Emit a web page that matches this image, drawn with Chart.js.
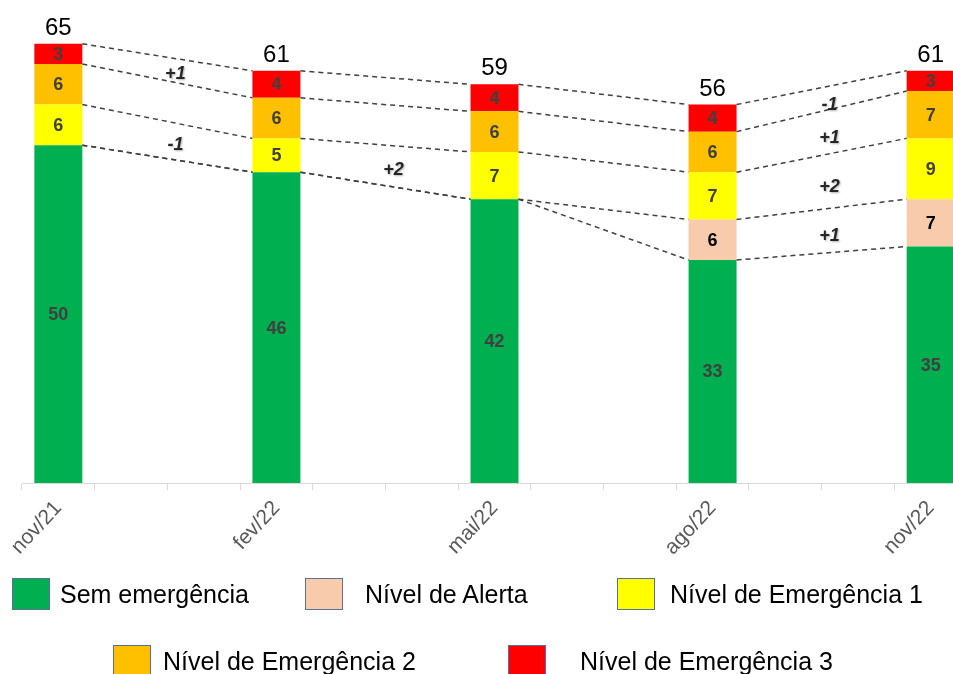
<!DOCTYPE html>
<html>
<head>
<meta charset="utf-8">
<script src="https://cdn.jsdelivr.net/npm/chart.js@4.4.0/dist/chart.umd.min.js"></script>
<style>
    html, body { margin: 0; padding: 0; background: #fff; overflow: hidden; width: 953px; height: 674px; }
    #wrap { position: absolute; left: 0; top: 0; width: 967px; height: 560px; }
    #legend { position: absolute; left: 0; top: 0; width: 953px; height: 674px; }
    .lg-box { position: absolute; width: 36px; height: 30px; border: 1px solid #5a6f99; }
    .lg-text { position: absolute; height: 32px; line-height: 32px; color: #000;
               font-family: "Liberation Sans", Arial, sans-serif; font-size: 25px; white-space: nowrap; }
</style>
</head>
<body>
<div id="wrap"><canvas id="mainChart"></canvas></div>
<div id="legend"></div>
<script>
// Values (one bar every three months)
const periods = ['nov/21', 'fev/22', 'mai/22', 'ago/22', 'nov/22'];
const semEmergencia = [50, 46, 42, 33, 35];
const nivelAlerta = [0, 0, 0, 6, 7];
const emergencia1 = [6, 5, 7, 7, 9];
const emergencia2 = [6, 6, 6, 6, 7];
const emergencia3 = [3, 4, 4, 4, 3];
const seriesNames = ['Sem emergência', 'Nível de Alerta', 'Nível de Emergência 1', 'Nível de Emergência 2', 'Nível de Emergência 3'];
const seriesColors = ['#00B050', '#F8CBAD', '#FFFF00', '#FFC000', '#FF0000'];

const STEP = 3; // months between two bars on the monthly axis
const slots = (periods.length - 1) * STEP + 1;
const monthLabels = Array.from({ length: slots }, (_, i) => i % STEP === 0 ? periods[i / STEP] : '');

function spread(values) {
    const out = new Array(slots).fill(null);
    values.forEach((v, i) => { out[i * STEP] = v; });
    return out;
}

const allSeries = [semEmergencia, nivelAlerta, emergencia1, emergencia2, emergencia3];

// Labels, connector lines and totals drawn over the bars
const overlayPlugin = {
    id: 'overlay',
    afterDatasetsDraw(chart) {
        const ctx = chart.ctx;
        const yScale = chart.scales.y;
        const metas = allSeries.map((_, k) => chart.getDatasetMeta(k));

        // cumulative tops for each bar
        const cum = periods.map((_, i) => {
            let s = 0;
            return allSeries.map(arr => (s += arr[i]));
        });
        const edges = periods.map((_, i) => {
            const el = metas[0].data[i * STEP];
            const p = el.getProps(['x', 'width'], true);
            return { left: p.x - p.width / 2, right: p.x + p.width / 2, x: p.x };
        });

        ctx.save();

        // values inside the segments
        ctx.textAlign = 'center';
        ctx.textBaseline = 'middle';
        ctx.font = 'bold 18px "Liberation Sans", Arial, sans-serif';
        allSeries.forEach((arr, k) => {
            arr.forEach((v, i) => {
                if (!v) return;
                const base = k === 0 ? 0 : cum[i][k - 1];
                const y = yScale.getPixelForValue(base + v / 2);
                ctx.fillStyle = k === 1 ? '#000' : '#404040';
                ctx.fillText(String(v), edges[i].x, y + 1);
            });
        });

        // totals above bars
        ctx.font = '24px "Liberation Sans", Arial, sans-serif';
        ctx.fillStyle = '#000';
        ctx.textBaseline = 'alphabetic';
        periods.forEach((_, i) => {
            const total = cum[i][allSeries.length - 1];
            ctx.fillText(String(total), edges[i].x, yScale.getPixelForValue(total) - 9);
        });

        // dashed connectors between bars
        ctx.strokeStyle = '#404040';
        ctx.lineWidth = 1.5;
        ctx.setLineDash([5, 4]);
        for (let i = 0; i < periods.length - 1; i++) {
            allSeries.forEach((_, k) => {
                ctx.beginPath();
                ctx.moveTo(edges[i].right, yScale.getPixelForValue(cum[i][k]));
                ctx.lineTo(edges[i + 1].left, yScale.getPixelForValue(cum[i + 1][k]));
                ctx.stroke();
            });
        }
        ctx.setLineDash([]);

        // changes between periods
        ctx.font = 'italic bold 18px "Liberation Sans", Arial, sans-serif';
        ctx.fillStyle = '#262626';
        ctx.textBaseline = 'middle';
        ctx.shadowColor = 'rgba(0,0,0,0.3)';
        ctx.shadowBlur = 2;
        ctx.shadowOffsetX = 1;
        ctx.shadowOffsetY = 1;
        for (let i = 0; i < periods.length - 1; i++) {
            for (let k = 1; k < allSeries.length; k++) {
                const prev = allSeries[k][i];
                const next = allSeries[k][i + 1];
                if (!prev || next === prev) continue;
                const diff = next - prev;
                const lower = (cum[i][k - 1] + cum[i + 1][k - 1]) / 2;
                const upper = (cum[i][k] + cum[i + 1][k]) / 2;
                const x = (edges[i].right + edges[i + 1].left) / 2 + 8;
                const y = yScale.getPixelForValue((lower + upper) / 2) + 5;
                ctx.fillText((diff > 0 ? '+' : '') + diff, x, y);
            }
        }
        ctx.restore();
    }
};

const chart = new Chart(document.getElementById('mainChart'), {
    type: 'bar',
    data: {
        labels: monthLabels,
        datasets: allSeries.map((arr, k) => ({
            label: seriesNames[k],
            data: spread(arr),
            backgroundColor: seriesColors[k],
            borderWidth: 0,
            barPercentage: 0.66,
            categoryPercentage: 1.0
        }))
    },
    options: {
        responsive: true,
        maintainAspectRatio: false,
        animation: false,
        layout: { padding: { left: 22, top: 10, right: 0, bottom: 0 } },
        plugins: {
            legend: { display: false },
            tooltip: { enabled: false }
        },
        scales: {
            x: {
                stacked: true,
                afterFit: scale => { scale.height = 77; },
                grid: {
                    drawOnChartArea: false,
                    color: '#d9d9d9',
                    tickLength: 7,
                    offset: true
                },
                border: { color: '#d9d9d9', width: 1 },
                ticks: {
                    autoSkip: false,
                    maxRotation: 47,
                    minRotation: 47,
                    padding: 6,
                    color: '#595959',
                    font: { family: '"Liberation Sans", Arial, sans-serif', size: 21 }
                }
            },
            y: {
                stacked: true,
                display: false,
                min: 0,
                max: 70
            }
        }
    },
    plugins: [overlayPlugin]
});

// legend below the chart, laid out like the original
const legendSpots = [
    { box: 12, text: 60, top: 578 },
    { box: 305, text: 365, top: 578 },
    { box: 617, text: 670, top: 578 },
    { box: 113, text: 163, top: 645 },
    { box: 508, text: 580, top: 645 }
];
const legendEl = document.getElementById('legend');
chart.data.datasets.forEach((ds, k) => {
    const spot = legendSpots[k];
    const box = document.createElement('div');
    box.className = 'lg-box';
    box.style.left = spot.box + 'px';
    box.style.top = spot.top + 'px';
    box.style.background = ds.backgroundColor;
    const txt = document.createElement('div');
    txt.className = 'lg-text';
    txt.style.left = spot.text + 'px';
    txt.style.top = spot.top + 'px';
    txt.textContent = ds.label;
    legendEl.appendChild(box);
    legendEl.appendChild(txt);
});
</script>
</body>
</html>
